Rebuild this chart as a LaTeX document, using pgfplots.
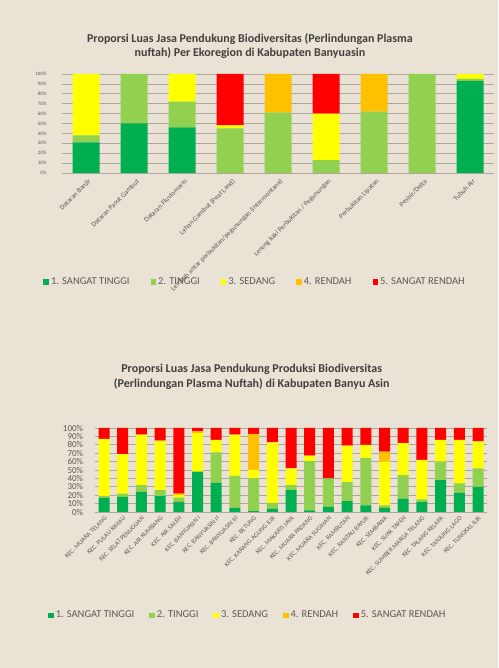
\documentclass[border=0pt]{standalone}
\usepackage{fontspec}
\setmainfont{Carlito}
\usepackage{pgfplots}
\usepackage{pgfplotstable}
\pgfplotsset{compat=1.18}

\definecolor{bg}{HTML}{EAE2D4}
\definecolor{sgt}{HTML}{00B050}
\definecolor{tgi}{HTML}{92D050}
\definecolor{sdg}{HTML}{FFFF00}
\definecolor{rdh}{HTML}{FFC000}
\definecolor{srd}{HTML}{FF0000}
\definecolor{txt}{HTML}{595959}
\definecolor{ttl}{HTML}{404040}
\definecolor{grd}{HTML}{ADA89F}

% proporsi (%) per kelas: dg=sangat tinggi, lg=tinggi, y=sedang, o=rendah, r=sangat rendah
\pgfplotstableread{
x dg lg y o r
0 31 7 62 0 0
1 50 50 0 0 0
2 46 26 28 0 0
3 0 45 3 0 52
4 0 61 0 39 0
5 0 13 47 0 40
6 0 62 0 38 0
7 0 100 0 0 0
8 93 2 5 0 0
}\ekoregion

\pgfplotstableread{
x dg lg y o r
0 17 2 68 0 13
1 18 4 47 0 31
2 24 8 60 0 8
3 19 7 59 0 15
4 12 5 3 2 78
5 48 0 46 2 4
6 35 36 15 0 14
7 5 38 49 0 8
8 1 39 10 43 7
9 4 7 72 0 17
10 26 6 20 0 48
11 2 59 6 0 33
12 6 34 0 0 60
13 13 23 43 0 21
14 8 56 16 0 20
15 5 3 52 12 28
16 16 28 38 0 18
17 12 3 47 0 38
18 38 22 26 0 14
19 23 11 52 0 14
20 30 22 32 0 16
}\kecamatan

\pgfplotsset{
  kelas/.style={
    ybar stacked, scale only axis,
    ymin=0, ymax=100, ytick={0,10,...,100},
    yticklabel={\pgfmathprintnumber{\tick}\%},
    ymajorgrids, grid style={grd, line width=0.6pt},
    axis line style={draw=none}, major tick length=0pt,
    xtick=data, xmin=-0.5,
    /pgf/number format/assume math mode=true,
    tick label style={text=txt},
    title style={text=ttl, font=\bfseries\fontsize{12}{14.5}\selectfont, align=center, anchor=center},
    legend columns=5,
    legend style={draw=none, fill=none, text=txt, font=\fontsize{10.5}{12}\selectfont, anchor=center},
    legend image code/.code={\fill[##1] (0pt,-2.8pt) rectangle (5.6pt,2.8pt);},
  }
}

\begin{document}
\begin{tikzpicture}
\useasboundingbox (0,0) rectangle (498pt,668pt);
\fill[bg] (0,0) rectangle (498pt,668pt);

\begin{axis}[kelas,
  at={(62pt,495pt)}, anchor=south west,
  width=432pt, height=99pt, bar width=27pt, xmax=8.5,
  title={Proporsi Luas Jasa Pendukung Biodiversitas (Perlindungan Plasma\\nuftah) Per Ekoregion di Kabupaten Banyuasin},
  title style={at={(axis description cs:0.435,1.22)}},
  yticklabel style={font=\fontsize{5}{6}\selectfont, xshift=-12pt},
  xticklabels={Dataran Banjir, Dataran Pasut Gambut, Dataran Fluviomarin, Lahan Gambut (Peat Land), Lembah antar perbukitan/pegunungan (Intermontane), Lereng kaki Perbukitan / Pegunungan, Perbukitan Lipatan, Pesisir/Delta, Tubuh Air},
  xticklabel style={font=\fontsize{7}{8}\selectfont, rotate=45, anchor=east, yshift=-8pt, xshift=1pt},
  legend style={at={(axis description cs:0.447,-1.10)}, /tikz/every even column/.append style={column sep=19pt}},
]
\addplot[fill=sgt, draw=none] table[x=x, y=dg] {\ekoregion};
\addplot[fill=tgi, draw=none] table[x=x, y=lg] {\ekoregion};
\addplot[fill=sdg, draw=none] table[x=x, y=y] {\ekoregion};
\addplot[fill=rdh, draw=none] table[x=x, y=o] {\ekoregion};
\addplot[fill=srd, draw=none] table[x=x, y=r] {\ekoregion};
\legend{1. SANGAT TINGGI, 2. TINGGI, 3. SEDANG, 4. RENDAH, 5. SANGAT RENDAH}
\end{axis}

\begin{axis}[kelas,
  at={(94.65pt,156pt)}, anchor=south west,
  width=392.7pt, height=84pt, bar width=11pt, xmax=20.5,
  title={Proporsi Luas Jasa Pendukung Produksi Biodiversitas\\(Perlindungan Plasma Nuftah) di Kabupaten Banyu Asin},
  title style={at={(axis description cs:0.40,1.54)}},
  yticklabel style={font=\fontsize{9}{9}\selectfont, xshift=-8pt},
  xticklabels={KEC. MUARA TELANG, KEC. PULAU RIMAU, KEC. SELAT PENUGUAN, KEC. AIR KUMBANG, KEC. AIR SALEH, KEC. BANYUASIN I, KEC. BANYUASIN II, KEC. BANYUASIN III, KEC. BETUNG, KEC. KARANG AGUNG ILIR, KEC. MAKARTI JAYA, KEC. MUARA PADANG, KEC. MUARA SUGIHAN, KEC. RAMBUTAN, KEC. RANTAU BAYUR, KEC. SEMBAWA, KEC. SUAK TAPEH, KEC. SUMBER MARGA TELANG, KEC. TALANG KELAPA, KEC. TANJUNG LAGO, KEC. TUNGKAL ILIR},
  xticklabel style={font=\fontsize{6.5}{7}\selectfont, rotate=45, anchor=east, yshift=-5pt, xshift=1pt},
  legend style={at={(axis description cs:0.39,-1.23)}, /tikz/every even column/.append style={column sep=13pt}},
]
\addplot[fill=sgt, draw=none] table[x=x, y=dg] {\kecamatan};
\addplot[fill=tgi, draw=none] table[x=x, y=lg] {\kecamatan};
\addplot[fill=sdg, draw=none] table[x=x, y=y] {\kecamatan};
\addplot[fill=rdh, draw=none] table[x=x, y=o] {\kecamatan};
\addplot[fill=srd, draw=none] table[x=x, y=r] {\kecamatan};
\legend{1. SANGAT TINGGI, 2. TINGGI, 3. SEDANG, 4. RENDAH, 5. SANGAT RENDAH}
\end{axis}
\end{tikzpicture}
\end{document}
